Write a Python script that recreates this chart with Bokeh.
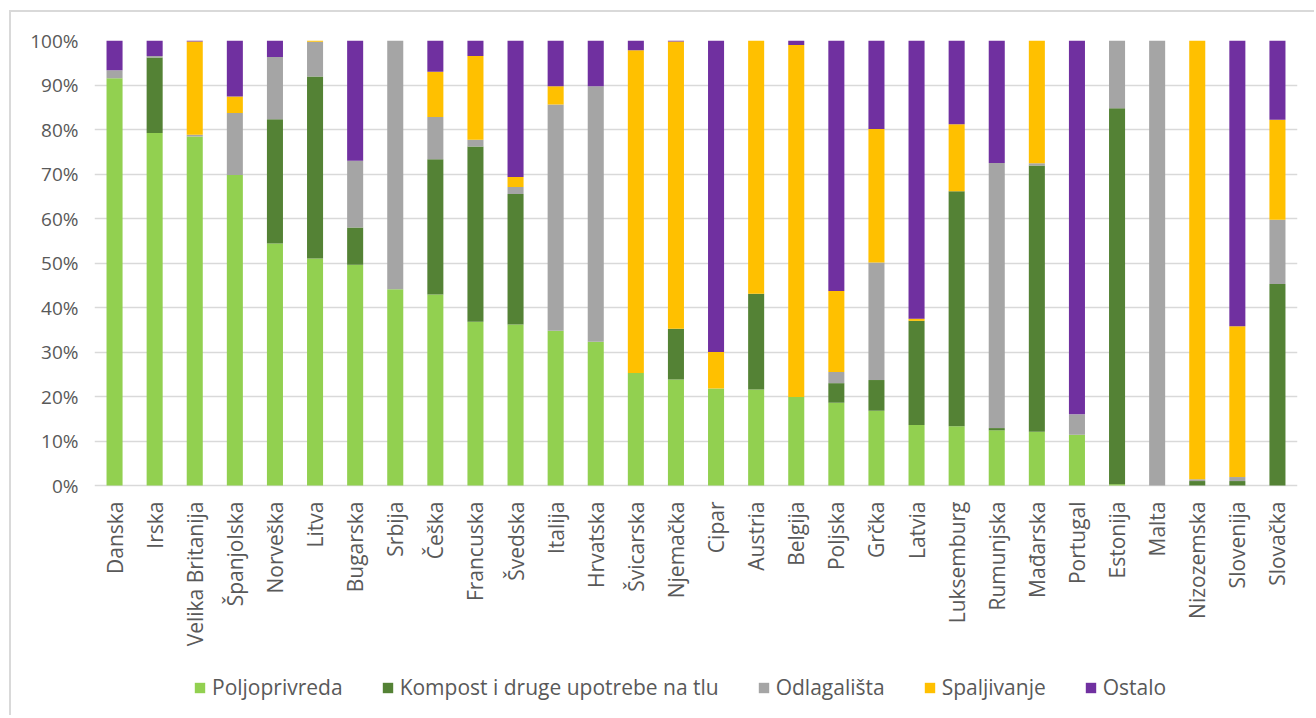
import math
from bokeh.plotting import figure
from bokeh.models import Range1d, FixedTicker, PrintfTickFormatter, Legend, LegendItem
from bokeh.embed import file_html
from bokeh.resources import INLINE

countries = ["Danska", "Irska", "Velika Britanija", "Španjolska", "Norveška", "Litva",
             "Bugarska", "Srbija", "Češka", "Francuska", "Švedska", "Italija", "Hrvatska",
             "Švicarska", "Njemačka", "Cipar", "Austria", "Belgija", "Poljska", "Grčka",
             "Latvia", "Luksemburg", "Rumunjska", "Mađarska", "Portugal", "Estonija",
             "Malta", "Nizozemska", "Slovenija", "Slovačka"]

poljoprivreda = [91.5, 79.2, 78.4, 69.8, 54.4, 51.0, 49.6, 44.1, 42.9, 36.8, 36.2, 34.8, 32.3,
                 25.3, 23.8, 21.8, 21.6, 19.9, 18.6, 16.8, 13.6, 13.3, 12.4, 12.1, 11.4, 0.3,
                 0.0, 0.0, 0.0, 0.0]
kompost = [0.0, 17.0, 0.0, 0.0, 27.9, 40.9, 8.4, 0.0, 30.4, 39.4, 29.3, 0.0, 0.0,
           0.0, 11.4, 0.0, 21.5, 0.0, 4.4, 6.9, 23.4, 52.8, 0.5, 59.8, 0.0, 84.5,
           0.0, 1.0, 1.0, 45.2]
odlagalista = [1.8, 0.3, 0.4, 13.9, 14.0, 7.8, 15.0, 55.9, 9.5, 1.5, 1.6, 50.8, 57.4,
               0.0, 0.0, 0.0, 0.0, 0.0, 2.5, 26.4, 0.0, 0.0, 59.6, 0.5, 4.6, 15.2,
               100.0, 0.4, 0.9, 14.4]
spaljivanje = [0.0, 0.0, 21.0, 3.7, 0.0, 0.3, 0.0, 0.0, 10.2, 18.8, 2.2, 4.1, 0.0,
               72.5, 64.6, 8.2, 56.9, 79.1, 18.2, 30.0, 0.5, 15.1, 0.0, 27.6, 0.0, 0.0,
               0.0, 98.6, 33.9, 22.4]
ostalo = [6.7, 3.5, 0.2, 12.6, 3.7, 0.0, 27.0, 0.0, 7.0, 3.5, 30.7, 10.3, 10.3,
          2.2, 0.2, 70.0, 0.0, 1.0, 56.3, 19.9, 62.5, 18.8, 27.5, 0.0, 84.0, 0.0,
          0.0, 0.0, 64.2, 17.8]

series_names = ["Poljoprivreda", "Kompost i druge upotrebe na tlu", "Odlagališta",
                "Spaljivanje", "Ostalo"]
series_keys = ["polj", "komp", "odl", "spal", "ost"]
colors = ["#92d050", "#548235", "#a5a5a5", "#ffc000", "#7030a0"]
y_ticks = [0, 10, 20, 30, 40, 50, 60, 70, 80, 90, 100]

# normalize to 100% stacked
raw = [poljoprivreda, kompost, odlagalista, spaljivanje, ostalo]
totals = [sum(s[i] for s in raw) for i in range(len(countries))]
data = {"country": countries}
for k, s in zip(series_keys, raw):
    data[k] = [v / t * 100 if t else 0 for v, t in zip(s, totals)]

FONT = "Open Sans"
TXT = "#595959"
GRID = "#d9d9d9"

# pixel layout: 100% at y=41, 0% at y=486, frame continues down to bottom (718)
TOP_PX, ZERO_PX, BOTTOM_PX = 41, 486, 718
y_start = -100.0 * (BOTTOM_PX - ZERO_PX) / (ZERO_PX - TOP_PX)

p = figure(x_range=countries, y_range=Range1d(y_start, 100), width=1305, height=705,
           output_backend="svg", toolbar_location=None,
           min_border_left=83, min_border_right=19, min_border_top=28, min_border_bottom=0)
p.styles = {"margin-left": "9px", "margin-top": "10px",
            "border-left": "2px solid #d9d9d9", "border-top": "2px solid #d9d9d9"}
p.outline_line_color = None
p.background_fill_color = "white"
p.border_fill_color = "white"

rs = p.vbar_stack(series_keys, x="country", width=0.4, color=colors, source=data,
                  line_color=None)

# category labels, drawn at the 0% baseline, reading bottom to top
p.text(x="country", y=0, text="country", source=data, angle=math.pi / 2,
       text_align="right", text_baseline="middle", y_offset=16,
       text_font={"value": FONT}, text_font_size="21px", text_color=TXT)

p.x_range.range_padding = 0
p.xaxis.visible = False
p.xgrid.grid_line_color = None
p.ygrid.ticker = FixedTicker(ticks=y_ticks)
p.ygrid.grid_line_color = GRID
p.ygrid.grid_line_width = 1.5
p.yaxis.ticker = FixedTicker(ticks=y_ticks)
p.yaxis.formatter = PrintfTickFormatter(format="%d%%")
p.yaxis.axis_line_color = None
p.yaxis.major_tick_line_color = None
p.yaxis.minor_tick_line_color = None
p.yaxis.major_label_text_font = FONT
p.yaxis.major_label_text_font_size = "19px"
p.yaxis.major_label_text_color = TXT
p.yaxis.major_label_standoff = 10

items = [LegendItem(label=n, renderers=[r]) for n, r in zip(series_names, rs)]
legend = Legend(items=items, orientation="horizontal", location=(99, 16),
                label_text_font=FONT, label_text_font_size="21px", label_text_color=TXT,
                glyph_width=13, glyph_height=13, label_standoff=6, spacing=38,
                padding=0, margin=0, border_line_color=None, background_fill_alpha=0)
p.add_layout(legend)

open("out.html", "w").write(file_html(p, INLINE))
